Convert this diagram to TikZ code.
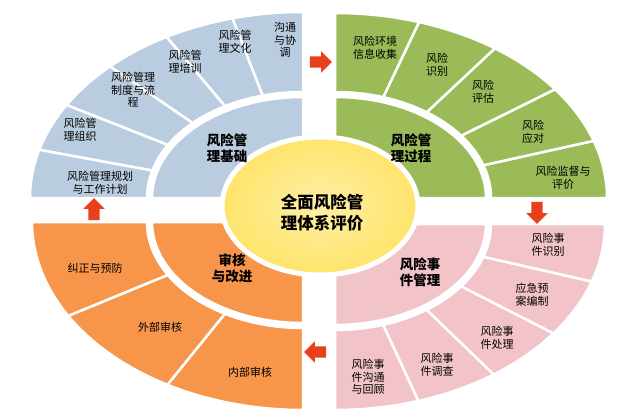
\documentclass[tikz,border=0pt]{standalone}
\usepackage{fontspec}
\setmainfont{Noto Sans CJK SC}
\usetikzlibrary{shapes.arrows,shapes.geometric}
\definecolor{qblue}{HTML}{BACCDF}
\definecolor{qgreen}{HTML}{9BBB59}
\definecolor{qpink}{HTML}{F2C3C8}
\definecolor{qorange}{HTML}{F7964A}
\definecolor{qyellow}{HTML}{FFE46A}
\definecolor{qred}{HTML}{E8401C}
\newcommand{\segm}[9]{%
 \fill[#9,draw=white,line width=2.5pt] ({#1+#7*cos(#3)},{-#2+#8*sin(#3)}) arc[start angle=#3,end angle=#4,x radius=#7pt,y radius=#8pt] -- ({#1+#5*cos(#4)},{-#2+#6*sin(#4)}) arc[start angle=#4,end angle=#3,x radius=#5pt,y radius=#6pt] -- cycle;}
\tikzset{lab/.style={align=center,font=\fontsize{11}{12.5}\selectfont,inner sep=0pt},
 ilab/.style={align=center,font=\bfseries\fontsize{13.5}{16}\selectfont,inner sep=0pt},
 arr/.style={single arrow,fill=qred,minimum height=22pt,minimum width=21pt,single arrow head extend=5pt,inner sep=5.5pt}}
\begin{document}
\begin{tikzpicture}[x=1pt,y=1pt]
\useasboundingbox (0,0) rectangle (640,-418);
% blue
\segm{303}{198}{90}{180}{0}{0}{151}{101}{qblue}
\foreach \a in {90,105,120,135,150,165}{\segm{303}{198}{\a}{\a+15}{156}{106}{273}{186}{qblue}}
% green
\segm{335}{198}{0}{90}{0}{0}{151}{101}{qgreen}
\foreach \a in {0,18,36,54,72}{\segm{335}{198}{\a}{\a+18}{156}{106}{272}{185}{qgreen}}
% pink
\segm{335}{224}{270}{360}{0}{0}{151}{101}{qpink}
\foreach \a in {270,288,306,324,342}{\segm{335}{224}{\a}{\a+18}{156}{106}{270}{186}{qpink}}
% orange
\segm{303}{222}{180}{270}{0}{0}{151}{101}{qorange}
\foreach \a in {180,210,240}{\segm{303}{222}{\a}{\a+30}{156}{106}{271}{188}{qorange}}
% center
\node[ellipse,draw=white,line width=5pt,inner color=qyellow!60!white,outer color=qyellow,minimum width=196pt,minimum height=138pt] (c) at (320,-206) {};
\node[ilab,font=\bfseries\fontsize{16.5}{21}\selectfont] (ct) at (322,-213) {全面风险管\\理体系评价};
% labels blue
\node[lab] (b1) at (100,-183) {风险管理规划\\与工作计划};
\node[lab] (b2) at (80,-130) {风险管\\理组织};
\node[lab] (b3) at (133,-90) {风险管理\\制度与流\\程};
\node[lab] (b4) at (185,-62) {风险管\\理培训};
\node[lab] (b5) at (235,-42) {风险管\\理文化};
\node[lab] (b6) at (285,-40) {沟通\\与协\\调};
\node[ilab] (bi) at (227,-148) {风险管\\理基础};
% green
\node[lab] (g1) at (375,-48) {风险环境\\信息收集};
\node[lab] (g2) at (437,-65) {风险\\识别};
\node[lab] (g3) at (483,-92) {风险\\评估};
\node[lab] (g4) at (533,-132) {风险\\应对};
\node[lab] (g5) at (563,-178) {风险监督与\\评价};
\node[ilab] (gi) at (411,-148) {风险管\\理过程};
% pink
\node[lab] (p1) at (548,-245) {风险事\\件识别};
\node[lab] (p2) at (532,-295) {应急预\\案编制};
\node[lab] (p3) at (497,-338) {风险事\\件处理};
\node[lab] (p4) at (437,-365) {风险事\\件调查};
\node[lab] (p5) at (368,-377) {风险事\\件沟通\\与回顾};
\node[ilab] (pi) at (420,-272) {风险事\\件管理};
% orange
\node[lab] (o1) at (95,-268) {纠正与预防};
\node[lab] (o2) at (160,-327) {外部审核};
\node[lab] (o3) at (250,-372) {内部审核};
\node[ilab] (oi) at (232,-268) {审核\\与改进};
% arrows
\node[arr] (a1) at (318,-62) {};
\node[arr,rotate=-90] (a2) at (537,-210) {};
\node[arr,rotate=180] (a3) at (318,-352) {};
\node[arr,rotate=90] (a4) at (94,-212) {};
\end{tikzpicture}
\end{document}
